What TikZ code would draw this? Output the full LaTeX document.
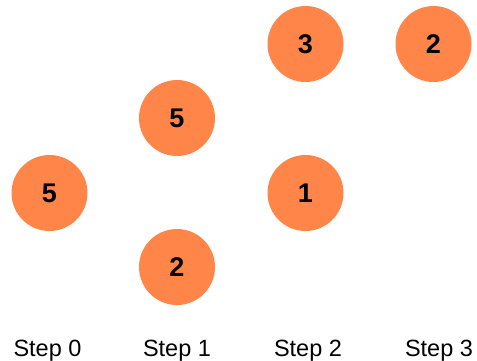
\documentclass[tikz,border=0pt]{standalone}
\usepackage{fontspec}
\setmainfont{Liberation Sans}
\usetikzlibrary{positioning}
\definecolor{ballorange}{RGB}{255,134,72}
\tikzset{
  ball/.style={circle,fill=ballorange,minimum size=76pt,inner sep=0pt,
    font=\fontsize{27}{30}\selectfont\bfseries},
  steplabel/.style={anchor=base,inner sep=0pt,font=\fontsize{23.5}{26}\selectfont}
}

\begin{document}
\begin{tikzpicture}[x=1pt,y=-1pt]
  \useasboundingbox (0,0) rectangle (477,360);

  % step 0
  \node[ball] (zeroa) at (49.5,193) {5};
  % step 1
  \node[ball] (onea) at (177,118) {5};
  \node[ball] (oneb) at (177,267) {2};
  % step 2
  \node[ball] (twoa) at (305.5,44) {3};
  \node[ball] (twob) at (305.5,193) {1};
  % step 3
  \node[ball] (threea) at (433.5,44) {2};

  \foreach[count=\i from 0] \x in {47.5,177,308,439} {
    \node[steplabel] (step\i) at (\x,356) {Step \i};
  }
\end{tikzpicture}
\end{document}
